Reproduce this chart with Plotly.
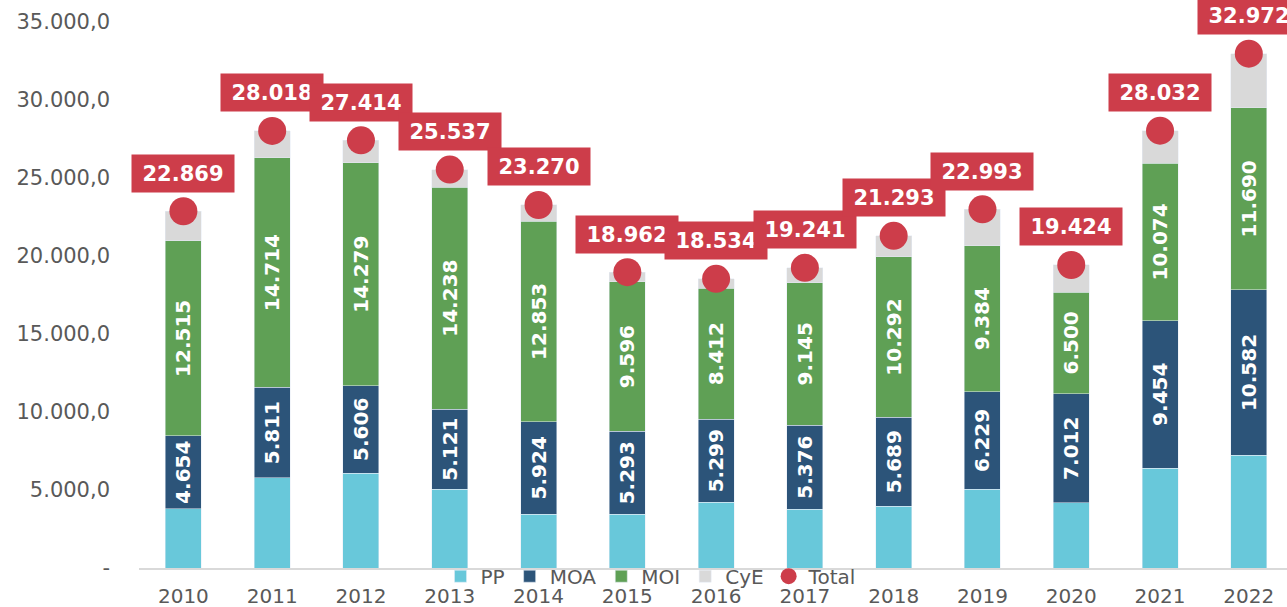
import plotly.graph_objects as go

years = ["2010", "2011", "2012", "2013", "2014", "2015", "2016", "2017", "2018", "2019", "2020", "2021", "2022"]
pp = [3810, 5770, 6090, 5060, 3460, 3460, 4230, 3780, 3970, 5060, 4170, 6410, 7240]
moa = [4654, 5811, 5606, 5121, 5924, 5293, 5299, 5376, 5689, 6229, 7012, 9454, 10582]
moi = [12515, 14714, 14279, 14238, 12853, 9596, 8412, 9145, 10292, 9384, 6500, 10074, 11690]
total = [22869, 28018, 27414, 25537, 23270, 18962, 18534, 19241, 21293, 22993, 19424, 28032, 32972]
cye = [t - a - b - c for t, a, b, c in zip(total, pp, moa, moi)]

ytickvals = [0, 5000, 10000, 15000, 20000, 25000, 30000, 35000]
yticktext = ["-", "5.000,0", "10.000,0", "15.000,0", "20.000,0", "25.000,0", "30.000,0", "35.000,0"]

C_PP = "#68C8DA"
C_MOA = "#2C5479"
C_MOI = "#5FA055"
C_CYE = "#D9D9D9"
C_TOT = "#CD3D4A"
FONT = "DejaVu Sans"

xs = list(range(len(years)))

fig = go.Figure()
label_font = dict(family=FONT, size=20, color="white", weight="bold")
fig.add_bar(x=xs, y=pp, name="PP", marker_color=C_PP, width=0.405)
fig.add_bar(x=xs, y=moa, name="MOA", marker_color=C_MOA, width=0.405,
            texttemplate="%{y:,.0f}", textposition="inside", textangle=-90,
            insidetextanchor="middle", textfont=label_font, constraintext="none")
fig.add_bar(x=xs, y=moi, name="MOI", marker_color=C_MOI, width=0.405,
            texttemplate="%{y:,.0f}", textposition="inside", textangle=-90,
            insidetextanchor="middle", textfont=label_font, constraintext="none")
fig.add_bar(x=xs, y=cye, name="CyE", marker_color=C_CYE, width=0.405)
fig.add_scatter(x=xs, y=total, name="Total", mode="markers",
                marker=dict(color=C_TOT, size=28, line=dict(width=0)), cliponaxis=False)

for x, t in zip(xs, total):
    fig.add_annotation(x=x, y=t, xref="x", yref="y", yshift=38, showarrow=False,
                       text=f"{t:,}".replace(",", "."), bgcolor=C_TOT,
                       width=100, height=35,
                       font=dict(family=FONT, size=21, color="white", weight="bold"))

fig.update_layout(
    barmode="stack",
    separators=",.",
    width=1287, height=607,
    margin=dict(l=139, r=0, t=22, b=39),
    plot_bgcolor="white", paper_bgcolor="white",
    font=dict(family=FONT, size=20, color="#595959"),
    hovermode=False,
    legend=dict(orientation="h", x=0.446, xanchor="center", y=-0.015, yanchor="middle",
                traceorder="normal",
                font=dict(family=FONT, size=20, color="#595959"),
                bgcolor="rgba(0,0,0,0)", itemwidth=30, tracegroupgap=0),
    xaxis=dict(range=[-0.5, 12.43], tickvals=xs, ticktext=years, showgrid=False,
               showline=True, linecolor="#D9D9D9", linewidth=1.5, ticks="",
               automargin=False, ticklabelstandoff=9,
               tickfont=dict(family=FONT, size=20, color="#595959"), zeroline=False),
    yaxis=dict(range=[0, 35000], tickvals=ytickvals, ticktext=yticktext, showgrid=False,
               zeroline=False, showline=False, ticks="", ticklabelstandoff=28,
               automargin=False,
               tickfont=dict(family=FONT, size=21, color="#595959")),
)

fig.write_html("out.html", config={"displayModeBar": False},
               post_script="document.body.style.margin='0';")
